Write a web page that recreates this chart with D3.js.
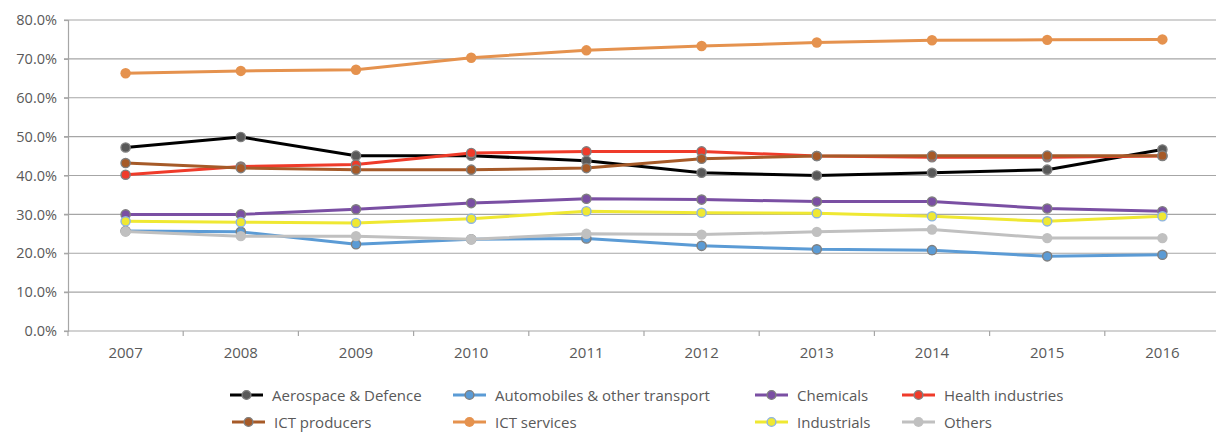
<!DOCTYPE html>
<html>
<head>
<meta charset="utf-8">
<script src="https://cdn.jsdelivr.net/npm/d3@7"></script>
<style>
  html, body { margin: 0; padding: 0; background: #fff; }
  svg text { font-family: "Open Sans", "Noto Sans", sans-serif; fill: #595959; }
</style>
</head>
<body>
<svg id="chart" width="1216" height="432"></svg>
<script>
// Share of R&D investment by sector, 2007-2016
const years = ["2007", "2008", "2009", "2010", "2011", "2012", "2013", "2014", "2015", "2016"];
const yTicks = [0, 10, 20, 30, 40, 50, 60, 70, 80];

const aerospace   = [47.2, 49.9, 45.1, 45.1, 43.8, 40.7, 40.0, 40.7, 41.5, 46.7];
const automobiles = [25.7, 25.5, 22.3, 23.6, 23.8, 21.9, 21.0, 20.8, 19.2, 19.6];
const chemicals   = [30.0, 30.0, 31.3, 32.9, 34.0, 33.8, 33.3, 33.3, 31.5, 30.8];
const health      = [40.2, 42.3, 42.8, 45.8, 46.2, 46.2, 45.0, 44.7, 44.7, 45.0];
const ictProducers= [43.2, 41.9, 41.5, 41.5, 41.9, 44.3, 45.0, 45.1, 45.1, 45.1];
const ictServices = [66.3, 66.9, 67.2, 70.3, 72.2, 73.3, 74.2, 74.8, 74.9, 75.0];
const industrials = [28.2, 28.0, 27.8, 28.9, 30.8, 30.4, 30.3, 29.5, 28.2, 29.5];
const others      = [25.6, 24.4, 24.4, 23.6, 25.0, 24.8, 25.5, 26.1, 23.9, 23.9];

const series = [
  { name: "Aerospace & Defence",          values: aerospace,    line: "#000000", fill: "#595959", stroke: "#7f7f7f" },
  { name: "Automobiles & other transport",values: automobiles,  line: "#5b9bd5", fill: "#5b9bd5", stroke: "#7f7f7f" },
  { name: "Chemicals",                    values: chemicals,    line: "#7a4fa3", fill: "#7a4fa3", stroke: "#7f7f7f" },
  { name: "Health industries",            values: health,       line: "#ef3b2a", fill: "#ef3b2a", stroke: "#7f7f7f" },
  { name: "ICT producers",                values: ictProducers, line: "#a65a28", fill: "#a65a28", stroke: "#7f7f7f" },
  { name: "ICT services",                 values: ictServices,  line: "#e5924e", fill: "#e5924e", stroke: "none" },
  { name: "Industrials",                  values: industrials,  line: "#efe832", fill: "#efe832", stroke: "#8db4e2" },
  { name: "Others",                       values: others,       line: "#c0c0c0", fill: "#c0c0c0", stroke: "none" }
];

const svg = d3.select("#chart");
const margin = { left: 68, top: 20, bottom: 331 };
const bandW = 115.2;

const x = d3.scaleBand().domain(years).range([margin.left, margin.left + bandW * years.length]);
const y = d3.scaleLinear().domain([0, 80]).range([margin.bottom, margin.top]);

// horizontal gridlines
svg.append("g")
  .selectAll("line")
  .data(yTicks.filter(d => d > 0))
  .join("line")
  .attr("x1", margin.left - 4).attr("x2", 1216)
  .attr("y1", d => y(d)).attr("y2", d => y(d))
  .attr("stroke", "#a6a6a6").attr("stroke-width", 1.2);

// y axis
const yAxis = d3.axisLeft(y).tickValues(yTicks).tickFormat(d => d.toFixed(1) + "%").tickSize(4).tickPadding(7);
const gy = svg.append("g").attr("transform", `translate(${margin.left},0)`).call(yAxis);
gy.select(".domain").attr("stroke", "#a6a6a6").attr("stroke-width", 1.2);
gy.selectAll(".tick line").attr("stroke", "#a6a6a6").attr("stroke-width", 1.2);
gy.selectAll(".tick text").style("font-size", "14.5px").attr("fill", "#595959");

// x axis with ticks between categories
const gx = svg.append("g").attr("transform", `translate(0,${margin.bottom})`);
gx.append("line")
  .attr("x1", margin.left - 4).attr("x2", 1216)
  .attr("stroke", "#a6a6a6").attr("stroke-width", 1.2);
gx.selectAll("line.tk")
  .data(years)
  .join("line").attr("class", "tk")
  .attr("x1", d => x(d)).attr("x2", d => x(d))
  .attr("y1", 0).attr("y2", 5)
  .attr("stroke", "#a6a6a6").attr("stroke-width", 1.2);
gx.selectAll("text")
  .data(years)
  .join("text")
  .attr("x", d => x(d) + x.bandwidth() / 2)
  .attr("y", 27)
  .attr("text-anchor", "middle")
  .style("font-size", "15px")
  .text(d => d);

// series lines and markers
const line = d3.line()
  .x((d, i) => x(years[i]) + x.bandwidth() / 2)
  .y(d => y(d));

const gSeries = svg.append("g");
series.forEach(s => {
  const g = gSeries.append("g");
  g.append("path")
    .attr("d", line(s.values))
    .attr("fill", "none")
    .attr("stroke", s.line)
    .attr("stroke-width", 3)
    .attr("stroke-linejoin", "round");
  g.selectAll("circle")
    .data(s.values)
    .join("circle")
    .attr("cx", (d, i) => x(years[i]) + x.bandwidth() / 2)
    .attr("cy", d => y(d))
    .attr("r", s.stroke === "none" ? 5.2 : 4.6)
    .attr("fill", s.fill)
    .attr("stroke", s.stroke)
    .attr("stroke-width", 1.4);
});

// legend
const legendPos = [
  { x: 230, y: 395 }, { x: 453, y: 395 }, { x: 755, y: 395 }, { x: 902, y: 395 },
  { x: 232, y: 422 }, { x: 453, y: 422 }, { x: 755, y: 422 }, { x: 902, y: 422 }
];
const legend = svg.append("g");
series.forEach((s, i) => {
  const p = legendPos[i];
  const g = legend.append("g").attr("transform", `translate(${p.x},${p.y})`);
  g.append("line").attr("x1", 0).attr("x2", 33).attr("y1", 0).attr("y2", 0)
    .attr("stroke", s.line).attr("stroke-width", 3);
  g.append("circle").attr("cx", 16.5).attr("cy", 0)
    .attr("r", s.stroke === "none" ? 5 : 4.4)
    .attr("fill", s.fill).attr("stroke", s.stroke).attr("stroke-width", 1.4);
  g.append("text").attr("x", 42).attr("y", 5.5)
    .style("font-size", "15px")
    .text(s.name);
});
</script>
</body>
</html>
